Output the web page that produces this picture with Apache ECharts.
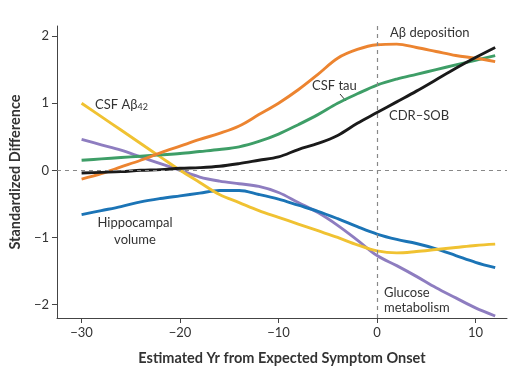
<!DOCTYPE html>
<html><head><meta charset="utf-8">
<script src="https://cdn.jsdelivr.net/npm/echarts@6/dist/echarts.min.js"></script>
<style>html,body{margin:0;padding:0;background:#fff}#c{width:510px;height:382px}</style>
</head><body><div id="c"></div>
<script>
const years = [-30,-28,-26,-24,-22,-20,-18,-16,-14,-12,-10,-8,-6,-4,-2,0,2,4,6,8,10,12];
const abDeposition = [-0.13,-0.05,0.05,0.15,0.26,0.36,0.46,0.55,0.66,0.83,1.0,1.2,1.43,1.67,1.8,1.87,1.88,1.83,1.77,1.71,1.67,1.62];
const csfTau = [0.15,0.17,0.19,0.21,0.23,0.25,0.28,0.31,0.35,0.43,0.54,0.68,0.83,1.0,1.14,1.27,1.36,1.43,1.5,1.57,1.64,1.71];
const cdrSob = [-0.04,-0.03,-0.02,0,0.01,0.03,0.04,0.06,0.1,0.15,0.2,0.31,0.4,0.52,0.7,0.86,1.02,1.18,1.35,1.52,1.68,1.83];
const csfAb42 = [1.0,0.8,0.6,0.4,0.2,0.0,-0.18,-0.36,-0.48,-0.6,-0.7,-0.8,-0.9,-1.0,-1.11,-1.2,-1.23,-1.21,-1.18,-1.15,-1.12,-1.1];
const glucose = [0.46,0.38,0.3,0.2,0.1,0.0,-0.1,-0.16,-0.2,-0.24,-0.33,-0.48,-0.63,-0.82,-1.04,-1.27,-1.42,-1.58,-1.75,-1.9,-2.05,-2.17];
const hippocampal = [-0.66,-0.6,-0.54,-0.47,-0.42,-0.38,-0.34,-0.3,-0.3,-0.36,-0.43,-0.52,-0.61,-0.72,-0.84,-0.95,-1.03,-1.09,-1.17,-1.27,-1.37,-1.45];
const xTicks = [-30,-20,-10,0,10];
const yTicks = [-2,-1,0,1,2];

const pair = arr => years.map((x,i)=>[x,arr[i]]);
const fmt = v => (v<0?'\u2212'+Math.abs(v):String(v));
const font = 'Lato, "Open Sans", sans-serif';
const txt = '#333';

function line(name, arr, color, extra) {
  return Object.assign({name, type:'line', data: pair(arr), smooth:0.35, symbol:'none',
    lineStyle:{color, width:2.9}, z:3, silent:true}, extra||{});
}

const chart = echarts.init(document.getElementById('c'), null, {renderer:'canvas'});
chart.setOption({
  animation:false,
  grid:{left:54, right:3, top:26, bottom:64},
  xAxis:{type:'value', min:-32.5, max:13.2,
    axisLine:{onZero:false, lineStyle:{color:'#444', width:1}},
    axisTick:{show:true, customValues:xTicks, length:5, lineStyle:{color:'#444'}},
    axisLabel:{customValues:xTicks, formatter:fmt, color:txt, fontSize:13, fontFamily:font, margin:8},
    splitLine:{show:false},
    name:'Estimated Yr from Expected Symptom Onset', nameLocation:'middle', nameGap:33,
    nameTextStyle:{fontWeight:'bold', fontSize:14.5, color:txt, fontFamily:font}},
  yAxis:{type:'value', min:-2.2, max:2.15,
    axisLine:{show:true, onZero:false, lineStyle:{color:'#444', width:1}},
    axisTick:{show:true, customValues:yTicks, length:5, lineStyle:{color:'#444'}},
    axisLabel:{customValues:yTicks, formatter:fmt, color:txt, fontSize:13, fontFamily:font, margin:8},
    splitLine:{show:false},
    name:'Standardized Difference', nameLocation:'middle', nameGap:32,
    nameTextStyle:{fontWeight:'bold', fontSize:14.5, color:txt, fontFamily:font}},
  series:[
    line('Glucose metabolism', glucose, '#8E7DC0', {
      markLine:{silent:true, symbol:'none', label:{show:false},
        lineStyle:{color:'#888', type:[4,4], width:1.2},
        data:[{yAxis:0},{xAxis:0}]}}),
    line('Hippocampal volume', hippocampal, '#1B74B6'),
    line('CSF Aβ42', csfAb42, '#F0C232'),
    line('CSF tau', csfTau, '#3E9E67'),
    line('Aβ deposition', abDeposition, '#EC8430'),
    line('CDR–SOB', cdrSob, '#1a1a1a')
  ],
  graphic:[
    {type:'text', x:390, y:26, style:{text:'A\u03b2 deposition', fill:txt, font:'13px '+font}},
    {type:'text', x:312, y:79, style:{text:'CSF tau', fill:txt, font:'13px '+font}},
    {type:'line', shape:{x1:340, y1:94, x2:346, y2:101}, style:{stroke:txt, lineWidth:1}},
    {type:'text', x:389, y:109, style:{text:'CDR\u2013SOB', fill:txt, font:'13px '+font}},
    {type:'text', x:95, y:97, style:{rich:{b:{fill:txt, font:'13px '+font}, s:{fill:txt, font:'9px '+font, padding:[6,0,0,0]}}, text:'{b|CSF A\u03b2}{s|42}'}},
    {type:'text', x:135, y:214, style:{text:'Hippocampal\nvolume', fill:txt, font:'13px '+font, align:'center', lineHeight:17}},
    {type:'text', x:384, y:285, style:{text:'Glucose\nmetabolism', fill:txt, font:'13px '+font, lineHeight:15}}
  ]
});
</script></body></html>
